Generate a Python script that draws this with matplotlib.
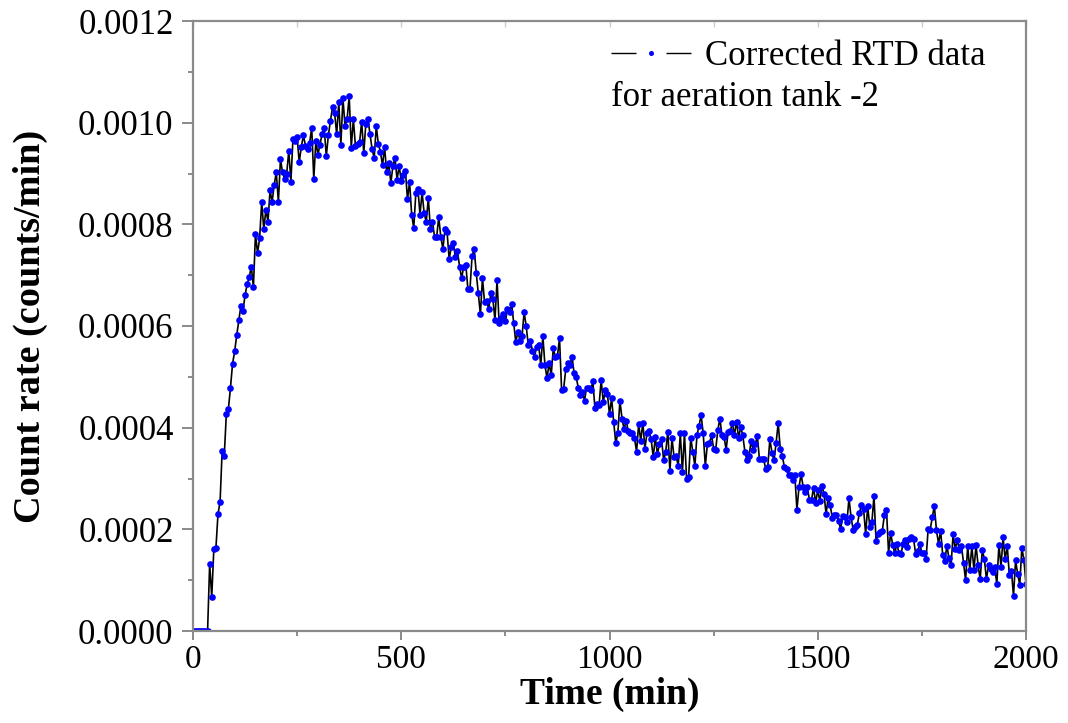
import numpy as np
import matplotlib
matplotlib.use("Agg")
import matplotlib.pyplot as plt
from matplotlib.lines import Line2D
from matplotlib.ticker import MultipleLocator, FormatStrFormatter

# ---- data (time in min, count rate in 1e-6 counts/min) ----
time_min = np.arange(0, 2005, 5)

rate_0_490 = [0, 0, 0, 0, 0, 0, 0, 0,
              132, 67, 161, 163, 230, 254, 355, 344, 426, 437, 479, 526, 550,
              582, 611, 640, 629, 661, 682, 696, 717, 676, 781,
              743, 773, 844, 790, 829, 805, 867, 844, 878, 902,
              844, 928, 902, 890, 900, 945, 884, 968, 963, 972,
              922, 952, 975, 955, 948, 960, 990, 890, 964, 937,
              957, 978, 990, 934, 975, 1004, 1030, 1019, 977, 1040,
              957, 1048, 993, 1007, 1052, 951, 1007, 954, 958, 962,
              1002, 940, 998, 1007, 978, 948, 931, 993, 958, 943,
              916, 952, 902, 920, 881, 915, 931, 888]
rate_495_1000 = [915, 885, 897, 905, 849, 884, 819, 793, 861, 870,
                 819, 863, 822, 805, 852, 790, 805, 775, 775, 814,
                 775, 752, 790, 785, 732, 755, 764, 735, 747, 717,
                 694, 717, 720, 673, 673, 737, 752, 705, 664, 623,
                 694, 647, 650, 633, 664, 653, 612, 690, 606, 615,
                 623, 609, 633, 627, 644, 606, 568, 589, 571, 580,
                 627, 600, 562, 571, 551, 539, 559, 562, 523, 580,
                 523, 497, 527, 503, 556, 539, 541, 576, 474, 477,
                 515, 527, 523, 540, 507, 499, 479, 465, 471, 453,
                 479, 479, 474, 491, 439, 447, 445, 494, 450, 474,
                 466, 426]
rate_1005_1490 = [458, 412, 370, 389, 453, 418, 397, 414, 393, 389,
                  389, 379, 353, 407, 374, 410, 359, 389, 393, 377,
                  342, 381, 348, 368, 378, 336, 353, 392, 315, 379,
                  342, 344, 325, 389, 313, 389, 300, 303, 380, 353,
                  325, 385, 404, 424, 389, 325, 367, 370, 385, 359,
                  357, 395, 418, 385, 382, 357, 392, 393, 409, 386,
                  412, 380, 401, 385, 353, 336, 344, 374, 356, 368,
                  383, 338, 338, 338, 319, 323, 377, 351, 336, 370,
                  409, 359, 344, 322, 319, 307, 306, 298, 306, 239,
                  283, 309, 283, 273, 283, 258, 258, 282]
rate_1495_2000 = [252, 277, 256, 285, 270, 230, 262, 247, 222, 229,
                  229, 216, 201, 226, 224, 214, 261, 224, 199, 204,
                  209, 232, 248, 240, 191, 245, 204, 214, 266, 177,
                  191, 195, 197, 228, 239, 154, 193, 169, 153, 172,
                  153, 152, 172, 180, 165, 181, 184, 181, 152, 157,
                  171, 154, 154, 141, 200, 199, 224, 246, 198, 172,
                  197, 150, 137, 168, 143, 129, 190, 161, 179, 159,
                  168, 134, 100, 167, 120, 167, 120, 169, 129, 102,
                  159, 142, 102, 129, 121, 117, 125, 92, 170, 126,
                  184, 141, 167, 110, 119, 69, 139, 112, 91, 163,
                  140, 92]

count_rate = np.array(rate_0_490 + rate_495_1000 + rate_1005_1490 + rate_1495_2000) * 1e-6

legend_line1 = "Corrected RTD data"
legend_line2 = "for aeration tank -2"
x_label = "Time (min)"
y_label = "Count rate (counts/min)"

# ---- style ----
plt.rcParams['font.family'] = ['Liberation Serif', 'DejaVu Serif']
gray = '#8a8a8a'

fig = plt.figure(figsize=(10.68, 7.23), dpi=100)
ax = fig.add_axes([193/1068, 1-631/723, (1026-193)/1068, (631-21)/723])

ax.plot(time_min, count_rate, color='black', lw=1.2,
        marker='o', ms=4.8, mfc='#0000ff', mec='#0000ff', mew=0)

ax.set_xlim(0, 2000)
ax.set_ylim(0, 0.0012)
ax.xaxis.set_major_locator(MultipleLocator(500))
ax.xaxis.set_minor_locator(MultipleLocator(250))
ax.yaxis.set_major_locator(MultipleLocator(0.0002))
ax.yaxis.set_minor_locator(MultipleLocator(0.0001))
ax.yaxis.set_major_formatter(FormatStrFormatter('%.4f'))

for s in ax.spines.values():
    s.set_color(gray)
    s.set_linewidth(1.6)

ax.tick_params(axis='both', which='both', direction='out', width=1.4, color=gray)
ax.tick_params(axis='y', which='major', length=8, pad=6, labelsize=25)
ax.tick_params(axis='y', which='minor', length=3.5)
ax.tick_params(axis='x', which='major', length=6.5, pad=3, labelsize=24)
ax.tick_params(axis='x', which='minor', length=3.5)

top = ax.secondary_xaxis('top')
top.xaxis.set_major_locator(MultipleLocator(250))
top.tick_params(direction='in', length=4, width=1.0, color='#cfcfcf', labeltop=False)
top.spines['top'].set_visible(False)

ax.set_xlabel(x_label, fontsize=27, fontweight='bold', va='top')
ax.xaxis.set_label_coords(0.5, -0.076)
ax.set_ylabel(y_label, fontsize=27.5, fontweight='bold')
ax.yaxis.set_label_coords(-0.174, 0.5)

handle = Line2D([], [], color='black', lw=1.0, ls=(0, (18, 21.6, 18, 60)),
                marker='o', ms=3.6, mfc='#0000ff', mec='#0000ff', mew=0)
ax.legend([handle], [legend_line1], loc='center left',
          bbox_to_anchor=(0.502, 0.941), frameon=False, fontsize=25,
          handlelength=2.3, handletextpad=0.4, borderpad=0, borderaxespad=0,
          numpoints=1)
ax.text(0.502, 0.874, legend_line2, transform=ax.transAxes, fontsize=25,
        ha='left', va='center')

fig.savefig('out.png', dpi=100)
